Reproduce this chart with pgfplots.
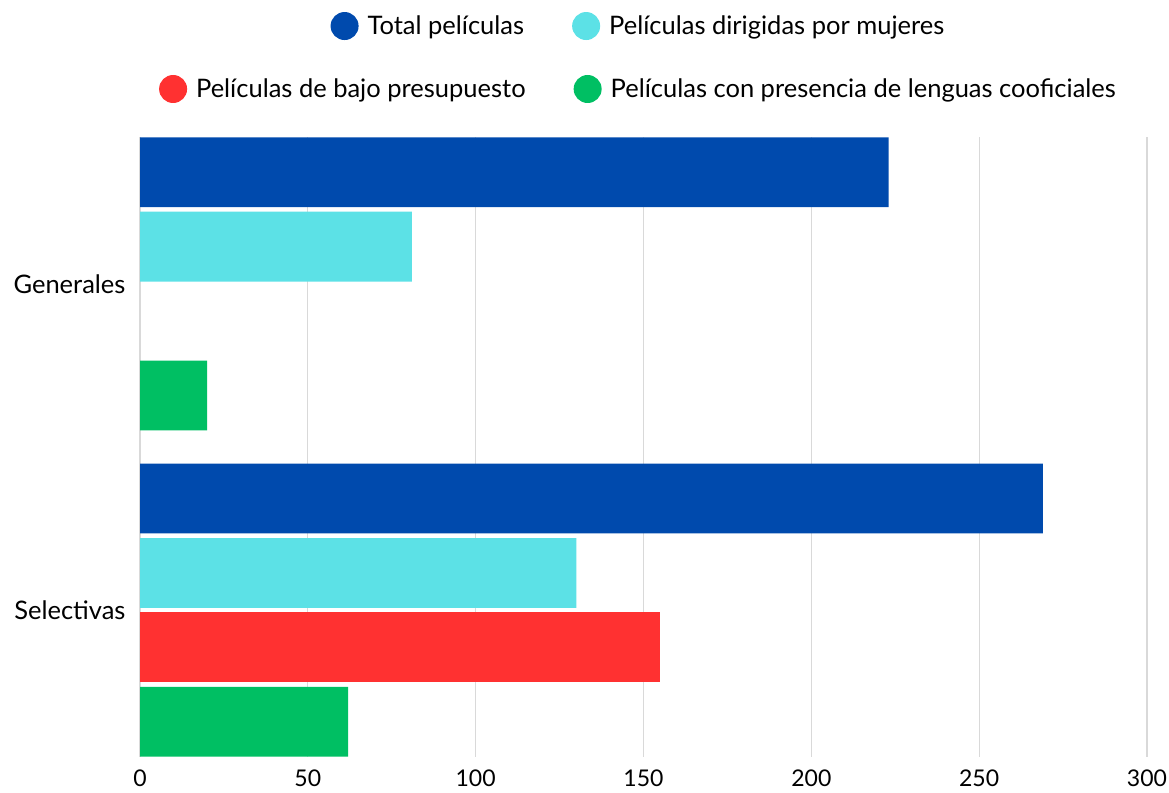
\documentclass[border=0pt]{standalone}
\usepackage{pgfplots}
\pgfplotsset{compat=1.18}
\usepackage{fontspec}
\setmainfont{Lato}
\definecolor{cblue}{HTML}{004AAD}
\definecolor{ccyan}{HTML}{5CE1E6}
\definecolor{cred}{HTML}{FF3131}
\definecolor{cgreen}{HTML}{00BF63}
\definecolor{gridgray}{HTML}{D9D9D9}
\pgfplotsset{
  mylegend/.style={
    legend image code/.code={\fill (0pt,0pt) circle (14pt);},
    legend style={draw=none, fill=none, legend columns=-1,
      font=\fontsize{25.5}{30}\selectfont, anchor=center,
      inner sep=0pt, column sep=8pt,
      nodes={inner sep=1pt},
      /tikz/every even column/.append style={column sep=47pt}},
  }
}
\begin{document}
\begin{tikzpicture}
\path[use as bounding box] (0,0) rectangle (1169pt,792pt);
\begin{axis}[
  at={(140pt,35pt)}, anchor=south west,
  width=1007pt, height=620pt, scale only axis,
  xbar, bar width=0.214,
  xmin=0, xmax=300,
  ymin=-0.45, ymax=1.45, y dir=reverse,
  ytick={0,1}, yticklabels={Generales,Selectivas},
  xtick={0,50,...,300},
  axis line style={draw=none},
  major tick length=0pt,
  xmajorgrids, grid style={color=gridgray, line width=1.2pt},
  xticklabel style={font=\fontsize{23}{27}\selectfont, yshift=-9pt},
  yticklabel style={font=\fontsize{25.5}{30}\selectfont, xshift=-11pt},
  /pgf/number format/assume math mode=true,
  mylegend,
  legend style={at={(axis description cs:0.4945,1.179)}},
]
\addplot[fill=cblue, draw=none, bar shift=-0.342] coordinates {(223,0) (269,1)};
\addlegendentry{Total películas}
\addplot[fill=ccyan, draw=none, bar shift=-0.114] coordinates {(81,0) (130,1)};
\addlegendentry{Películas dirigidas por mujeres}
\addplot[fill=cred, draw=none, bar shift=0.114, forget plot] coordinates {(155,1)};
\addplot[fill=cgreen, draw=none, bar shift=0.342, forget plot] coordinates {(20,0) (62,1)};
\end{axis}
\begin{axis}[
  at={(140pt,35pt)}, anchor=south west,
  width=1007pt, height=620pt, scale only axis,
  hide axis, xmin=0, xmax=1, ymin=0, ymax=1,
  mylegend,
  legend style={at={(axis description cs:0.4945,1.0774)}},
]
\addlegendimage{fill=cred, draw=none}
\addlegendentry{Películas de bajo presupuesto}
\addlegendimage{fill=cgreen, draw=none}
\addlegendentry{Películas con presencia de lenguas cooficiales}
\end{axis}
\end{tikzpicture}
\end{document}
